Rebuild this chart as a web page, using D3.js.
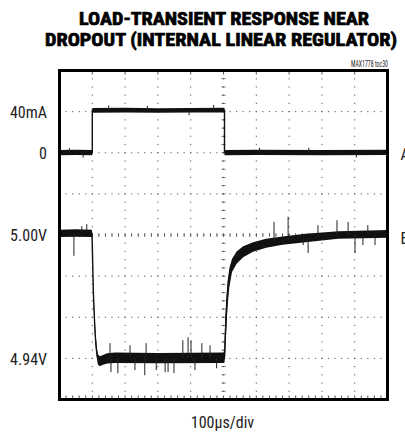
<!DOCTYPE html>
<html>
<head>
<meta charset="utf-8">
<script src="https://cdn.jsdelivr.net/npm/d3@7"></script>
<style>
  html, body { margin: 0; padding: 0; background: #fff; overflow: hidden; }
  svg { display: block; }
</style>
</head>
<body>
<svg id="chart" width="405" height="434"></svg>
<script>
// ---------------- DATA ----------------
const titleLines = ["LOAD-TRANSIENT RESPONSE NEAR", "DROPOUT (INTERNAL LINEAR REGULATOR)"];
const noteText = "MAX1778 toc30";
const xLabel = "100\u03bcs/div";

// time axis: 10 divisions of 100 us
const timeDomain = [0, 1000];
const timeDivs = [0, 100, 200, 300, 400, 500, 600, 700, 800, 900, 1000];

// channel A: load current (40mA/div), channel B: output voltage (20mV/div)
const currentDomain = [80, -240];
const voltDomain = [5.08, 4.92];
const voltDivs = [5.08, 5.06, 5.04, 5.02, 5.00, 4.98, 4.96, 4.94, 4.92];

const currentTickValues = [40, 0];
const currentTickLabels = ["40mA", "0"];
const voltTickValues = [5.00, 4.94];
const voltTickLabels = ["5.00V", "4.94V"];
const channelNames = ["A", "B"];

// load current trace envelope (mA)
const curT  = [0,    50,   100,  100,  200,  300,  400,  503,  503,  600,  800,  1000];
const curHi = [2.6,  2.8,  2.6,  43.6, 43.8, 43.4, 43.6, 43.8, 2.6,  2.8,  2.6,  2.8];
const curLo = [-2.4, -2.2, -2.4, 39.0, 39.2, 38.9, 39.1, 39.2, -2.4, -2.2, -2.5, -2.3];
// current spikes [time, mA]
const curSpikeT = [30, 72, 150, 268, 395, 470, 610, 760, 905];
const curSpikeV = [4.5, -4.8, 46.0, 45.5, 36.5, 46.5, 4.8, 4.9, -4.6];

// output voltage trace envelope (V)
const voltT  = [0,      50,     99,     101,    103,    106,    109,    113,    117,    123,    131,    145,    170,    300,    500,    503,    505,    508,    512,    518,    526,    540,    560,    590,    630,    680,    750,    850,    1000];
const voltHi = [5.0025, 5.0028, 5.0025, 4.9900, 4.9760, 4.9640, 4.9540, 4.9460, 4.9420, 4.9410, 4.9415, 4.9425, 4.9428, 4.9426, 4.9428, 4.9440, 4.9580, 4.9680, 4.9770, 4.9840, 4.9885, 4.9920, 4.9945, 4.9965, 4.9982, 4.9993, 5.0006, 5.0018, 5.0024];
const voltLo = [4.9990, 4.9992, 4.9990, 4.9860, 4.9700, 4.9580, 4.9480, 4.9410, 4.9370, 4.9362, 4.9368, 4.9375, 4.9378, 4.9376, 4.9378, 4.9380, 4.9410, 4.9520, 4.9650, 4.9750, 4.9820, 4.9860, 4.9892, 4.9918, 4.9938, 4.9953, 4.9965, 4.9982, 4.9987];
// voltage spikes [time, V]
const voltSpikeT = [44,     68,     83,     154,    157,    178,    215,    230,    260,    264,    295,    322,    331,    349,    376,    392,    401,    413,    434,    459,    479,    654,    697,    743,    758,    788,    846,    880,    901,    925,    940,    962];
const voltSpikeV = [4.9899, 5.0043, 5.0053, 4.9474, 4.9333, 4.9328, 4.9464, 4.9343, 4.9318, 4.9474, 4.9343, 4.9333, 4.9333, 4.9328, 4.9488, 4.9503, 4.9488, 4.9343, 4.9474, 4.9464, 4.9352, 5.0064, 5.0089, 4.9951, 4.9912, 5.0048, 5.0072, 5.0063, 4.9912, 4.9951, 5.0048, 4.9951];

// ---------------- DRAWING ----------------
const svg = d3.select("#chart");
const box = { left: 59.5, right: 387.5, top: 70.5, bottom: 399.5 };

const x  = d3.scaleLinear().domain(timeDomain).range([box.left, box.right]);
const yI = d3.scaleLinear().domain(currentDomain).range([box.top, box.bottom]);
const yV = d3.scaleLinear().domain(voltDomain).range([box.top, box.bottom]);

const narrow = "'Liberation Sans Narrow', 'Arial Narrow', 'Roboto Condensed', 'Liberation Sans', Arial, sans-serif";

// Title
svg.append("text").attr("x", 224).attr("y", 25)
  .attr("text-anchor", "middle").attr("font-family", narrow).attr("font-weight", "bold")
  .attr("font-size", 19).attr("textLength", 290).attr("lengthAdjust", "spacingAndGlyphs")
  .attr("stroke", "#000").attr("stroke-width", 0.7)
  .text(titleLines[0]);
svg.append("text").attr("x", 221).attr("y", 46)
  .attr("text-anchor", "middle").attr("font-family", narrow).attr("font-weight", "bold")
  .attr("font-size", 19).attr("textLength", 352).attr("lengthAdjust", "spacingAndGlyphs")
  .attr("stroke", "#000").attr("stroke-width", 0.7)
  .text(titleLines[1]);
svg.append("text").attr("x", 369.5).attr("y", 66.5)
  .attr("text-anchor", "middle").attr("font-family", narrow).attr("font-size", 8.5)
  .attr("textLength", 37).attr("lengthAdjust", "spacingAndGlyphs").attr("fill", "#222")
  .text(noteText);

// Grid: dotted division lines
const grid = svg.append("g").attr("fill", "#555");
const xMinor = d3.range(0, 1000.01, 20);       // 1/5 div in time
const vMinor = d3.range(0, 40.01, 1).map(k => voltDomain[0] - k * 0.004); // 1/5 div in volts
timeDivs.slice(1, -1).forEach(t => {
  vMinor.forEach(v => {
    grid.append("rect").attr("x", x(t) - 0.5).attr("y", yV(v) - 0.6).attr("width", 1).attr("height", 1.2);
  });
});
voltDivs.slice(1, -1).forEach(v => {
  xMinor.forEach(t => {
    grid.append("rect").attr("x", x(t) - 0.6).attr("y", yV(v) - 0.5).attr("width", 1.2).attr("height", 1);
  });
});
// center crosshair ticks
const cx = x(500), cy = yV(5.00);
xMinor.forEach(t => {
  grid.append("rect").attr("x", x(t) - 0.4).attr("y", cy - 2).attr("width", 0.8).attr("height", 4);
});
vMinor.forEach(v => {
  grid.append("rect").attr("x", cx - 2).attr("y", yV(v) - 0.4).attr("width", 4).attr("height", 0.8);
});
// bottom edge ticks
xMinor.forEach(t => {
  grid.append("rect").attr("x", x(t) - 0.5).attr("y", box.bottom - 4).attr("width", 1).attr("height", 3);
});
// top edge ticks at divisions
timeDivs.slice(1, -1).forEach(t => {
  grid.append("rect").attr("x", x(t) - 0.5).attr("y", box.top + 1).attr("width", 1).attr("height", 3);
});

// Traces
const traces = svg.append("g");
function drawTrace(T, hi, lo, yScale, spikeT, spikeV, bandColor) {
  const pts = T.map((t, i) => ({ t, hi: hi[i], lo: lo[i] }));
  const area = d3.area().x(d => x(d.t)).y0(d => yScale(d.lo)).y1(d => yScale(d.hi));
  traces.append("path").datum(pts).attr("d", area).attr("fill", bandColor);
  const line = d3.line().x(d => x(d.t)).y(d => yScale((d.hi + d.lo) / 2));
  traces.append("path").datum(pts).attr("d", line)
    .attr("fill", "none").attr("stroke", "#111").attr("stroke-width", 1.4);
  // spikes from trace center
  const mid = t => {
    const i = Math.max(1, Math.min(T.length - 1, d3.bisectRight(T, t)));
    const f = (t - T[i - 1]) / ((T[i] - T[i - 1]) || 1);
    return ((hi[i - 1] + lo[i - 1]) / 2) * (1 - f) + ((hi[i] + lo[i]) / 2) * f;
  };
  spikeT.forEach((t, k) => {
    traces.append("line")
      .attr("x1", x(t)).attr("x2", x(t))
      .attr("y1", yScale(mid(t))).attr("y2", yScale(spikeV[k]))
      .attr("stroke", "#222").attr("stroke-width", 1);
  });
}
drawTrace(curT, curHi, curLo, yI, curSpikeT, curSpikeV, "#111");
drawTrace(voltT, voltHi, voltLo, yV, voltSpikeT, voltSpikeV, "#111");

// Border
svg.append("rect")
  .attr("x", box.left).attr("y", box.top)
  .attr("width", box.right - box.left).attr("height", box.bottom - box.top)
  .attr("fill", "none").attr("stroke", "#000").attr("stroke-width", 3);

// Y tick labels via axes
const labelStyle = g => {
  g.select(".domain").remove();
  g.selectAll(".tick line").remove();
  g.selectAll(".tick text")
    .attr("font-family", narrow).attr("font-size", 16).attr("fill", "#222")
    .attr("x", 0).attr("dy", "0.36em");
};
const axI = d3.axisLeft(yI).tickValues(currentTickValues)
  .tickFormat((d, i) => currentTickLabels[i]).tickSize(0);
svg.append("g").attr("transform", "translate(47,0)").call(axI).call(labelStyle);
const axV = d3.axisLeft(yV).tickValues(voltTickValues)
  .tickFormat((d, i) => voltTickLabels[i]).tickSize(0);
svg.append("g").attr("transform", "translate(47,0)").call(axV).call(labelStyle);

// channel labels (clipped by the right page edge, as in the reference)
svg.append("text").attr("x", 400.5).attr("y", yI(0) + 7)
  .attr("font-family", narrow).attr("font-size", 16).attr("fill", "#222").text(channelNames[0]);
svg.append("text").attr("x", 400.5).attr("y", yV(5.00) + 9)
  .attr("font-family", narrow).attr("font-size", 16).attr("fill", "#222").text(channelNames[1]);

// X label
svg.append("text").attr("x", 222.5).attr("y", 428)
  .attr("text-anchor", "middle").attr("font-family", narrow).attr("font-size", 16).attr("fill", "#222")
  .text(xLabel);
</script>
</body>
</html>
